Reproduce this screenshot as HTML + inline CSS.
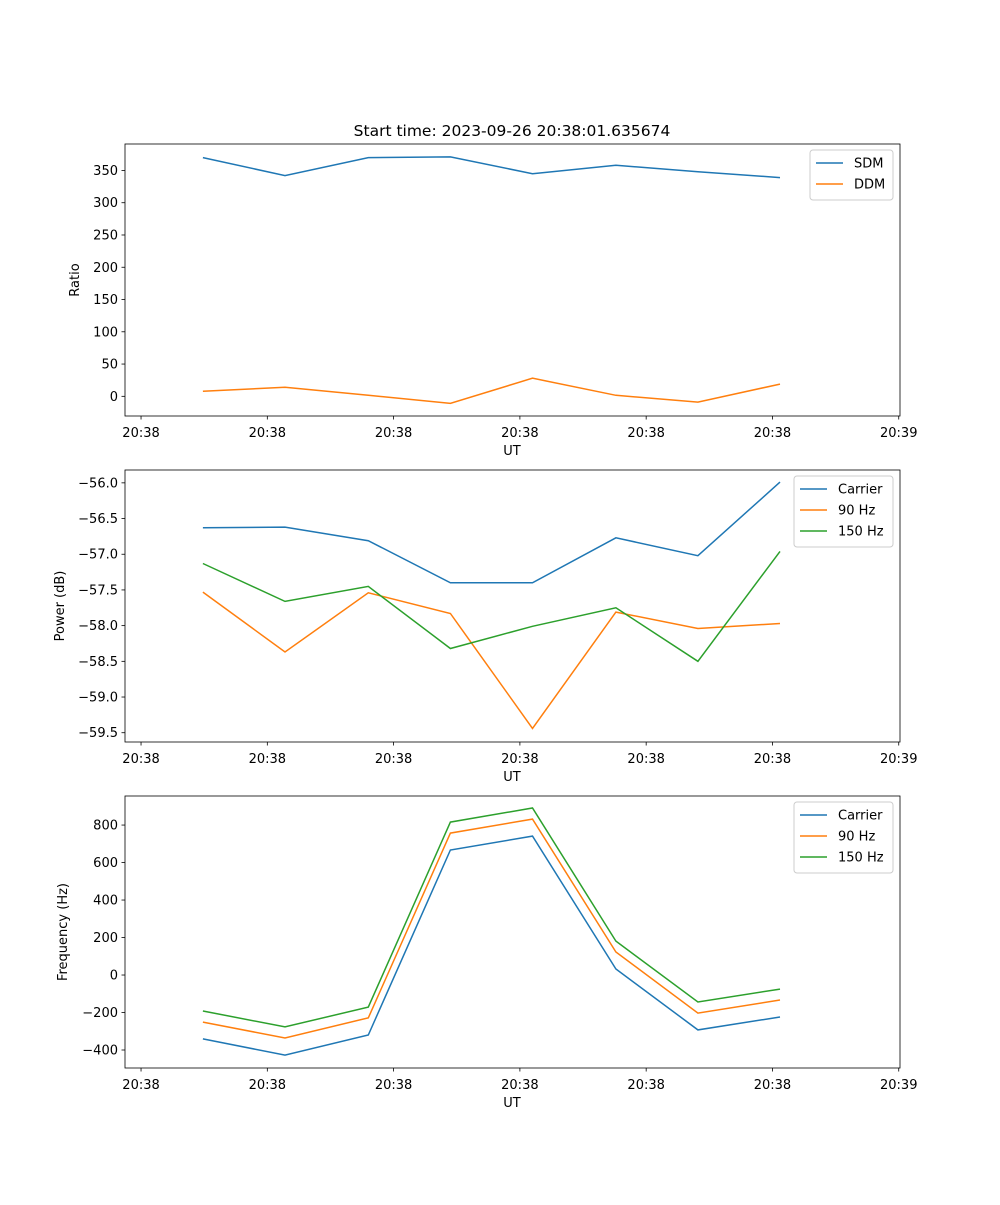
<!DOCTYPE html>
<html><head><meta charset="utf-8">
<style>
html,body{margin:0;padding:0;background:#fff;}
svg text{font-family:"DejaVu Sans","Liberation Sans",sans-serif;}
</style></head>
<body>
<svg id="fig" width="1000" height="1200" viewBox="0 0 1000 1200" xmlns="http://www.w3.org/2000/svg">
<rect width="1000" height="1200" fill="#fff"/>
<text x="512" y="136" font-size="15.5" text-anchor="middle">Start time: 2023-09-26 20:38:01.635674</text>
</svg>
<script>
// shared time axis (seconds from first tick)
const times = [4.9, 11.4, 18.0, 24.5, 31.0, 37.6, 44.1, 50.6];
const xTickVals = [0, 10, 20, 30, 40, 50, 60];
const xTickLabels = ["20:38","20:38","20:38","20:38","20:38","20:38","20:39"];

// panel 1: ratio
const sdm = [370, 342, 370, 371, 345, 358, 348, 339];
const ddm = [8, 14, 1.5, -11, 28, 1.5, -9, 19];
const ratioTicks = [0, 50, 100, 150, 200, 250, 300, 350];

// panel 2: power
const powCarrier = [-56.63, -56.62, -56.81, -57.40, -57.40, -56.77, -57.02, -55.99];
const pow90 = [-57.53, -58.37, -57.54, -57.83, -59.44, -57.81, -58.04, -57.97];
const pow150 = [-57.13, -57.66, -57.45, -58.32, -58.01, -57.75, -58.50, -56.96];
const powTicks = [-59.5, -59.0, -58.5, -58.0, -57.5, -57.0, -56.5, -56.0];

// panel 3: frequency
const frqCarrier = [-341, -427, -320, 667, 741, 32, -293, -224];
const frq90 = [-251, -336, -229, 757, 832, 123, -203, -133];
const frq150 = [-192, -277, -171, 816, 891, 181, -144, -75];
const frqTicks = [-400, -200, 0, 200, 400, 600, 800];

const NS = "http://www.w3.org/2000/svg";
const svg = document.getElementById('fig');
const C = ["#1f77b4","#ff7f0e","#2ca02c"];
function el(tag, attrs, parent){const e=document.createElementNS(NS,tag);for(const k in attrs)e.setAttribute(k,attrs[k]);(parent||svg).appendChild(e);return e;}

const X0=125, X1=900, XMIN=-1.27, XMAX=60.1;
function xs(v){return X0+(v-XMIN)/(XMAX-XMIN)*(X1-X0);}

function panel(key, top, ymin, ymax, yticks, fmt, ylabel, series, names, legendW){
  const bot=top+272;
  const g=el('g',{});
  
  
  const ys=v=>bot-(v-ymin)/(ymax-ymin)*(bot-top);
  series.forEach((s,i)=>{
    const p=el('polyline',{points:s.map((v,j)=>xs(times[j]).toFixed(1)+','+ys(v).toFixed(1)).join(' '),fill:'none',stroke:C[i],'stroke-width':1.5},g);
    
    
  });
  el('rect',{x:X0,y:top,width:X1-X0,height:bot-top,fill:'none',stroke:'#000','stroke-width':0.8},g);
  xTickVals.forEach((v,i)=>{
    const x=xs(v);
    el('line',{x1:x,x2:x,y1:bot,y2:bot+3.5,stroke:'#000','stroke-width':0.8},g);
    const t=el('text',{x:x,y:bot+21,'font-size':13,'text-anchor':'middle'},g);
    t.textContent=xTickLabels[i];
    
    
  });
  yticks.forEach(v=>{
    const y=ys(v);
    el('line',{x1:X0-3.5,x2:X0,y1:y,y2:y,stroke:'#000','stroke-width':0.8},g);
    const t=el('text',{x:X0-7,y:y+4.5,'font-size':13,'text-anchor':'end'},g);
    t.textContent=fmt(v);
    
    
  });
  const xl=el('text',{x:512,y:bot+39,'font-size':13,'text-anchor':'middle'},g);
  xl.textContent='UT';
  
  
  const labX = key==='ratio'?79:(key==='power'?64:67);
  const yl=el('text',{x:labX,y:(top+bot)/2,'font-size':13,'text-anchor':'middle',transform:`rotate(-90 ${labX} ${(top+bot)/2})`},g);
  yl.textContent=ylabel;
  
  
  // legend
  const lx=X1-7-legendW, ly=top+6;
  const lg=el('g',{},g);
  
  
  el('rect',{x:lx,y:ly,width:legendW,height:8+names.length*21,rx:3,fill:'#fff',stroke:'#ccc','stroke-width':1},lg);
  names.forEach((n,i)=>{
    const yy=ly+13+i*21;
    el('line',{x1:lx+6,x2:lx+33,y1:yy,y2:yy,stroke:C[i],'stroke-width':1.5},lg);
    const t=el('text',{x:lx+44,y:yy+4.5,'font-size':13},lg);
    t.textContent=n;
    
    
  });
}
panel('ratio',144,-30.5,391,ratioTicks,v=>String(v),'Ratio',[sdm,ddm],['SDM','DDM'],83);
panel('power',470,-59.63,-55.82,powTicks,v=>(v<0?'\u2212':'')+Math.abs(v).toFixed(1),'Power (dB)',[powCarrier,pow90,pow150],['Carrier','90 Hz','150 Hz'],99);
panel('freq',796,-496,955,frqTicks,v=>(v<0?'\u2212':'')+Math.abs(v),'Frequency (Hz)',[frqCarrier,frq90,frq150],['Carrier','90 Hz','150 Hz'],99);
</script>
</body></html>
